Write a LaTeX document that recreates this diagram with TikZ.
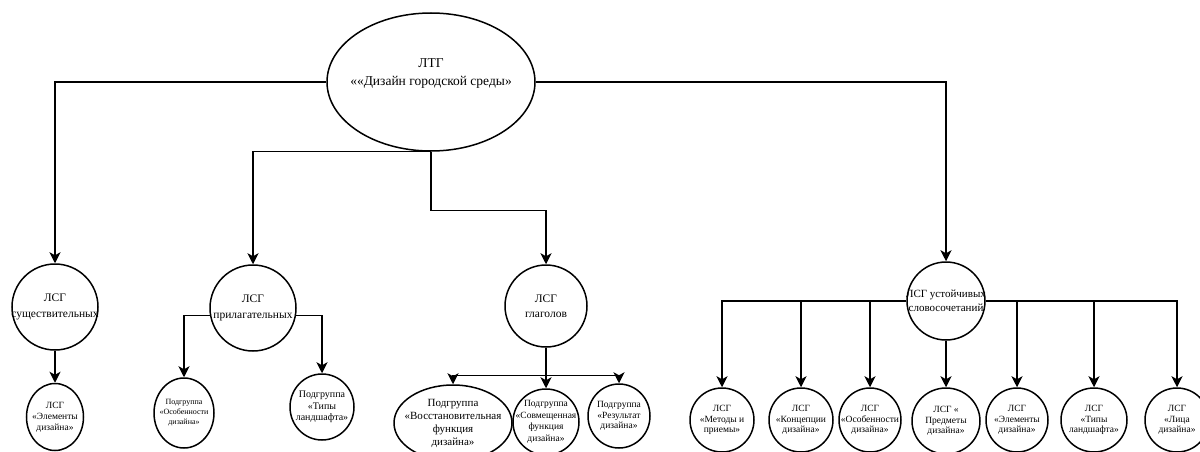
\documentclass[tikz,border=0pt]{standalone}
\usepackage{fontspec}
\setmainfont{Liberation Serif}
\usepackage{tikz}
\usetikzlibrary{arrows.meta}
\usetikzlibrary{shapes.geometric}

\begin{document}
\begin{tikzpicture}[x=1pt, y=-1pt, every text node part/.style={align=center},
    group/.style 2 args={draw, ellipse, line width=1.5pt, inner sep=-20pt, minimum width=#1, minimum height=#2},
    mid text/.style={font=\fontsize{11.5}{15.5}\selectfont},
    small text/.style={font=\fontsize{9.5}{10.5}\selectfont},
    link/.style={line width=1.4pt, -{Stealth[length=11pt, width=11pt, inset=3pt]}}]
\useasboundingbox (0,0) rectangle (1200,452);

\node (ltg) [group={208}{138}, label={[yshift=8pt, font=\fontsize{13.5}{18}\selectfont]center:ЛТГ\\««Дизайн городской среды»}] at (431,82) {};

\node (lsg nouns) [group={86}{86}, mid text] at (55,307) {ЛСГ\\существительных};
\node (lsg adjectives) [group={86}{86}, mid text] at (253,308) {ЛСГ\\прилагательных};
\node (lsg verbs) [group={82}{82}, mid text] at (546,306) {ЛСГ\\глаголов};
\node (lsg phrases) [group={78}{78}, font=\fontsize{11}{13.5}\selectfont] at (946,301) {ЛСГ устойчивых\\словосочетаний};

\node (noun elements) [group={57}{67}, font=\fontsize{9.5}{11}\selectfont] at (55,417) {ЛСГ\\«Элементы\\дизайна»};

\node (adj features) [group={60}{70}, font=\fontsize{8}{10}\selectfont] at (184,413) {Подгруппа\\«Особенности\\дизайна»};
\node (adj landscape) [group={64}{66}, font=\fontsize{10}{11.5}\selectfont] at (322,407) {Подгруппа\\«Типы\\ландшафта»};

\node (verb restoring) [group={118}{76}, font=\fontsize{11}{13}\selectfont] at (453,423) {Подгруппа\\«Восстановительная\\функция\\дизайна»};
\node (verb combined) [group={66}{66}, font=\fontsize{9.5}{11.5}\selectfont] at (546,422) {Подгруппа\\«Совмещенная\\функция\\дизайна»};
\node (verb result) [group={62}{64}, small text] at (619,416) {Подгруппа\\«Результат\\дизайна»};

\node (phr methods) [group={64}{64}, small text] at (722,420) {ЛСГ\\«Методы и\\приемы»};
\node (phr concepts) [group={64}{64}, small text] at (801,420) {ЛСГ\\«Концепции\\дизайна»};
\node (phr features) [group={62}{64}, small text] at (870,420) {ЛСГ\\«Особенности\\дизайна»};
\node (phr subjects) [group={68}{66}, small text] at (946,421) {ЛСГ «\\Предметы\\дизайна»};
\node (phr elements) [group={62}{64}, small text] at (1017,420) {ЛСГ\\«Элементы\\дизайна»};
\node (phr landscape) [group={66}{64}, small text] at (1094,420) {ЛСГ\\«Типы\\ландшафта»};
\node (phr faces) [group={64}{64}, small text] at (1177,420) {ЛСГ\\«Лица\\дизайна»};

\draw [link] (ltg.west) -| (lsg nouns);
\draw [link] (ltg.east) -| (lsg phrases);
\draw [link] (ltg.south) -| (lsg adjectives);
\draw [link] (ltg.south) -- ++(0,59) -| (lsg verbs);

\draw [link] (lsg nouns) -- (noun elements);

\draw [link] (lsg adjectives.190) -| (adj features);
\draw [link] (lsg adjectives.-10) -| (adj landscape);

\draw [link] (lsg verbs) -- (verb combined);
\draw [link] (lsg verbs.south) -- ++(0,28) -| (verb restoring);
\draw [link] (lsg verbs.south) -- ++(0,28) -| (verb result);

\draw [link] (lsg phrases.west) -| (phr methods);
\draw [link] (lsg phrases.west) -| (phr concepts);
\draw [link] (lsg phrases.west) -| (phr features);
\draw [link] (lsg phrases) -- (phr subjects);
\draw [link] (lsg phrases.east) -| (phr elements);
\draw [link] (lsg phrases.east) -| (phr landscape);
\draw [link] (lsg phrases.east) -| (phr faces);

\end{tikzpicture}
\end{document}
